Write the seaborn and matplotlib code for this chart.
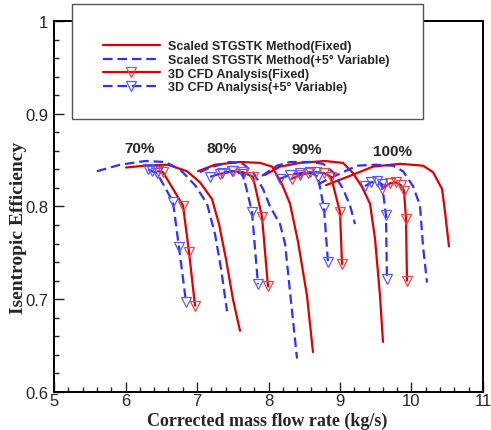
import matplotlib
matplotlib.use("Agg")
import matplotlib.pyplot as plt
import numpy as np
import pandas as pd
import seaborn as sns
from matplotlib.patches import Rectangle
from matplotlib.ticker import MultipleLocator

# ---------------- data ----------------
speeds = ["70%", "80%", "90%", "100%"]

# Scaled STGSTK Method (Fixed)
stg_fixed_x = [
    [6.007, 6.273, 6.594, 6.860, 7.042, 7.210, 7.308, 7.406, 7.503, 7.601],
    [7.014, 7.252, 7.601, 7.881, 8.049, 8.189, 8.301, 8.413, 8.538, 8.622],
    [7.951, 8.161, 8.441, 8.790, 9.042, 9.182, 9.308, 9.420, 9.490, 9.559, 9.601],
    [8.804, 9.140, 9.462, 9.839, 10.161, 10.301, 10.427, 10.469, 10.524],
]
stg_fixed_y = [
    [0.842, 0.844, 0.845, 0.838, 0.826, 0.808, 0.781, 0.743, 0.700, 0.666],
    [0.838, 0.845, 0.848, 0.847, 0.843, 0.824, 0.803, 0.762, 0.704, 0.643],
    [0.834, 0.843, 0.847, 0.849, 0.847, 0.836, 0.821, 0.803, 0.765, 0.704, 0.654],
    [0.823, 0.833, 0.843, 0.846, 0.844, 0.837, 0.819, 0.794, 0.757],
]

# Scaled STGSTK Method (+5 deg Variable)
stg_var_x = [
    [5.601, 5.923, 6.273, 6.552, 6.762, 6.972, 7.140, 7.252, 7.336, 7.420],
    [7.042, 7.182, 7.462, 7.643, 7.783, 7.923, 8.021, 8.161, 8.231, 8.301, 8.399],
    [7.909, 8.119, 8.301, 8.580, 8.762, 8.902, 9.042, 9.140, 9.210],
    [8.692, 8.958, 9.238, 9.490, 9.741, 9.881, 10.021, 10.119, 10.161, 10.217],
]
stg_var_y = [
    [0.838, 0.845, 0.849, 0.848, 0.840, 0.823, 0.803, 0.770, 0.733, 0.687],
    [0.837, 0.842, 0.848, 0.846, 0.837, 0.819, 0.800, 0.781, 0.760, 0.708, 0.636],
    [0.833, 0.844, 0.848, 0.848, 0.846, 0.837, 0.819, 0.801, 0.781],
    [0.824, 0.834, 0.844, 0.845, 0.844, 0.838, 0.822, 0.801, 0.757, 0.718],
]

# 3D CFD Analysis (Fixed)
cfd_fixed_x = [
    [6.455, 6.524, 6.804, 6.888, 6.972],
    [7.322, 7.503, 7.643, 7.783, 7.909, 7.993],
    [8.329, 8.441, 8.552, 8.664, 8.776, 8.874, 9.000, 9.028],
    [9.587, 9.699, 9.783, 9.853, 9.895, 9.923, 9.937],
]
cfd_fixed_y = [
    [0.838, 0.837, 0.801, 0.751, 0.693],
    [0.835, 0.838, 0.837, 0.832, 0.789, 0.714],
    [0.830, 0.834, 0.836, 0.837, 0.836, 0.832, 0.794, 0.738],
    [0.819, 0.825, 0.826, 0.823, 0.817, 0.787, 0.720],
]

# 3D CFD Analysis (+5 deg Variable)
cfd_var_x = [
    [6.315, 6.371, 6.441, 6.664, 6.748, 6.846],
    [7.182, 7.350, 7.490, 7.643, 7.769, 7.853],
    [8.161, 8.301, 8.441, 8.580, 8.692, 8.776, 8.832],
    [9.350, 9.434, 9.517, 9.587, 9.643, 9.657],
]
cfd_var_y = [
    [0.840, 0.838, 0.836, 0.805, 0.756, 0.697],
    [0.832, 0.836, 0.838, 0.835, 0.794, 0.716],
    [0.830, 0.834, 0.836, 0.837, 0.832, 0.798, 0.740],
    [0.822, 0.826, 0.827, 0.824, 0.791, 0.722],
]

series_labels = [
    "Scaled STGSTK Method(Fixed)",
    "Scaled STGSTK Method(+5° Variable)",
    "3D CFD Analysis(Fixed)",
    "3D CFD Analysis(+5° Variable)",
]

speed_label_x = [6.20, 7.35, 8.54, 9.73]
speed_label_y = [0.863, 0.863, 0.862, 0.860]

# ---------------- build long table ----------------
rows = []
for label, xs_all, ys_all in zip(series_labels,
                                 [stg_fixed_x, stg_var_x, cfd_fixed_x, cfd_var_x],
                                 [stg_fixed_y, stg_var_y, cfd_fixed_y, cfd_var_y]):
    for sp, xs, ys in zip(speeds, xs_all, ys_all):
        for i, (xv, yv) in enumerate(zip(xs, ys)):
            rows.append(dict(series=label, speed=sp, order=i, flow=xv, eff=yv))
df = pd.DataFrame(rows)

# ---------------- style ----------------
sns.set_style("ticks")
plt.rcParams["font.family"] = ["Liberation Sans", "DejaVu Sans"]

RED = "#dd0000"
BLUE = "#2f2fff"
RED_M = "#ee4444"
BLUE_M = "#5a5aff"

styles = {
    series_labels[0]: dict(color=RED, lw=1.6, ls="-"),
    series_labels[1]: dict(color=BLUE, lw=1.6, ls=(0, (4.3, 2.2))),
    series_labels[2]: dict(color=RED, lw=1.6, ls="-", marker="v", markersize=7,
                           markerfacecolor="none", markeredgecolor=RED_M, markeredgewidth=0.9),
    series_labels[3]: dict(color=BLUE, lw=1.6, ls=(0, (4.3, 2.2)), marker="v", markersize=7,
                           markerfacecolor="none", markeredgecolor=BLUE_M, markeredgewidth=0.9),
}

fig = plt.figure(figsize=(4.91, 4.31), dpi=100)
ax = fig.add_axes([0.110, 0.0882, 0.8737, 0.8608])

for label in series_labels:
    for k, sp in enumerate(speeds):
        sub = df[(df.series == label) & (df.speed == sp)].sort_values("order")
        sns.lineplot(data=sub, x="flow", y="eff", sort=False, estimator=None,
                     ax=ax, label=label if k == 0 else None, legend=False,
                     **styles[label])

for txt, xv, yv in zip(speeds, speed_label_x, speed_label_y):
    ax.text(xv, yv, txt, ha="center", va="center", fontsize=11, fontweight="bold",
            family="Liberation Sans")

ax.set_xlim(5, 11)
ax.set_ylim(0.6, 1.0)
ax.xaxis.set_major_locator(MultipleLocator(1))
ax.xaxis.set_minor_locator(MultipleLocator(0.2))
ax.yaxis.set_major_locator(MultipleLocator(0.1))
ax.yaxis.set_minor_locator(MultipleLocator(0.02))
ax.set_xticklabels([f"{v:g}" for v in ax.get_xticks()])
ax.set_yticklabels([f"{v:g}" for v in ax.get_yticks()])
ax.tick_params(which="both", direction="in", top=False, right=False, width=1, color="#222222")
ax.tick_params(which="major", length=7, labelsize=12)
ax.tick_params(axis="x", which="major", pad=1)
ax.tick_params(axis="y", which="major", pad=4)
ax.tick_params(which="minor", length=3.5)
for s in ax.spines.values():
    s.set_linewidth(1.4)
    s.set_color("black")

ax.set_xlabel("Corrected mass flow rate (kg/s)", family="Liberation Serif",
              fontweight="bold", fontsize=13)
ax.set_ylabel("Isentropic Efficiency", family="Liberation Serif",
              fontweight="bold", fontsize=14)
ax.xaxis.set_label_coords(0.497, -0.053)
ax.yaxis.set_label_coords(-0.062, 0.445)

# legend frame box (extends above axes)
box = Rectangle((72 / 491, 1 - 120 / 431), (423 - 72) / 491, (120 - 5) / 431,
                transform=fig.transFigure, facecolor="white", edgecolor="#555555",
                lw=1.0, zorder=10)
fig.add_artist(box)

handles, labels = ax.get_legend_handles_labels()
leg = fig.legend(handles, labels, loc="upper left", bbox_to_anchor=(97 / 491, 1 - 35 / 431),
                 bbox_transform=fig.transFigure, frameon=False, borderpad=0,
                 handlelength=4.5, handletextpad=0.7, labelspacing=0.13, numpoints=1,
                 prop=dict(family="Liberation Sans", weight="bold", size=9))
leg.set_zorder(11)

fig.savefig("out.png", dpi=100)
